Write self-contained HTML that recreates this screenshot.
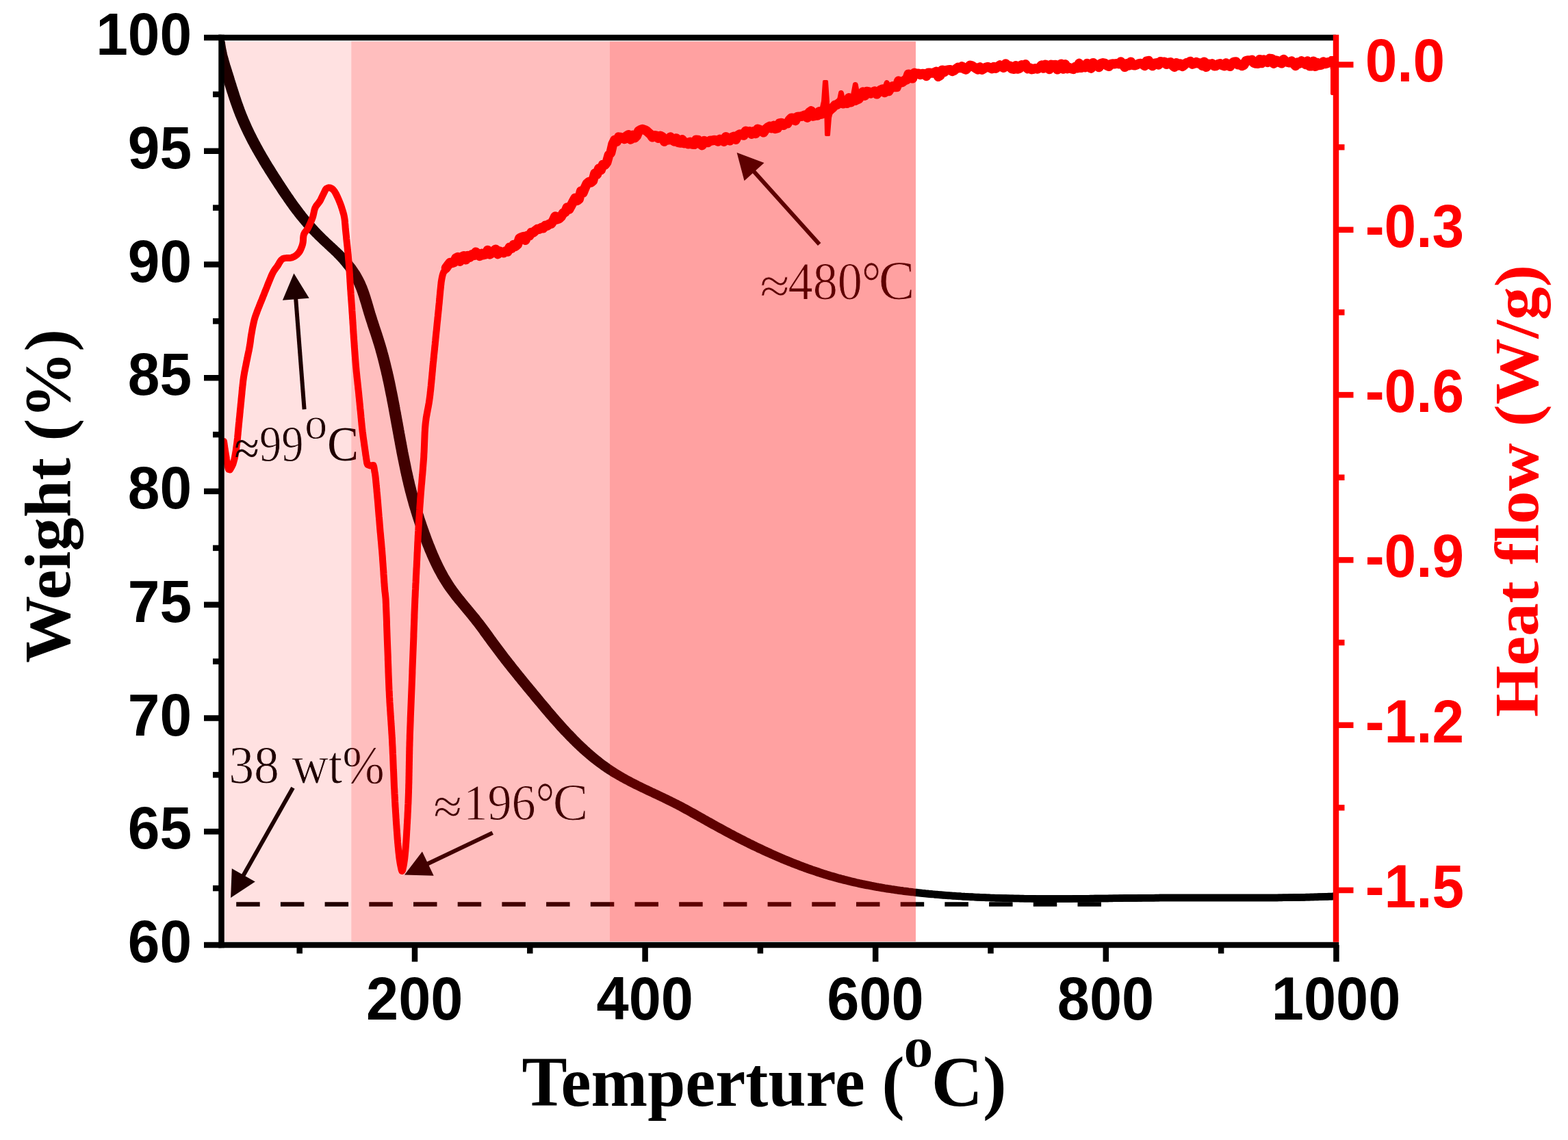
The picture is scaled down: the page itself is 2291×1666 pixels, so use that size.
<!DOCTYPE html><html><head><meta charset="utf-8"><title>TGA-DSC</title><style>html,body{margin:0;padding:0;background:#fff;overflow:hidden}svg{display:block}</style></head><body><svg xmlns="http://www.w3.org/2000/svg" width="2291" height="1666" viewBox="0 0 2291 1666">
<rect width="2291" height="1666" fill="#fff"/>
<defs><clipPath id="pc"><rect x="323.5" y="55.0" width="1628.5" height="1326.0"/></clipPath></defs>
<g clip-path="url(#pc)">
<path d="M320.4 62.2L320.7 64.7L321.1 67.1L321.5 69.6L321.9 72.1L322.4 74.5L323.0 77.0L323.5 79.4L324.1 81.8L324.8 84.3L325.4 86.7L326.1 89.1L326.8 91.5L327.5 93.9L328.2 96.3L329.0 98.7L329.7 101.1L330.5 103.5L331.2 105.8L332.0 108.2L332.7 110.6L333.5 113.0L334.2 115.4L334.9 117.8L335.7 120.2L336.4 122.6L337.2 125.0L337.9 127.3L338.7 129.7L339.4 132.1L340.2 134.5L341.0 136.9L341.7 139.3L342.5 141.6L343.3 144.0L344.1 146.4L344.9 148.8L345.7 151.1L346.6 153.5L347.4 155.8L348.3 158.2L349.1 160.5L350.0 162.9L350.9 165.2L351.8 167.6L352.8 169.9L353.7 172.2L354.7 174.5L355.7 176.8L356.7 179.1L357.7 181.4L358.7 183.7L359.7 185.9L360.8 188.2L361.9 190.5L362.9 192.7L364.0 195.0L365.2 197.2L366.3 199.5L367.4 201.7L368.6 203.9L369.7 206.2L370.9 208.4L372.1 210.6L373.2 212.8L374.4 215.0L375.7 217.2L376.9 219.4L378.1 221.5L379.3 223.7L380.6 225.9L381.8 228.0L383.1 230.2L384.4 232.4L385.7 234.5L386.9 236.7L388.2 238.8L389.5 240.9L390.8 243.1L392.2 245.2L393.5 247.3L394.8 249.5L396.1 251.6L397.5 253.7L398.8 255.8L400.2 257.9L401.5 260.0L402.9 262.1L404.2 264.2L405.6 266.3L407.0 268.4L408.3 270.5L409.7 272.6L411.1 274.7L412.5 276.8L413.8 278.9L415.2 281.0L416.6 283.0L418.0 285.1L419.4 287.2L420.9 289.2L422.3 291.3L423.7 293.4L425.2 295.4L426.6 297.4L428.1 299.5L429.5 301.5L431.0 303.5L432.5 305.5L434.0 307.5L435.5 309.5L437.1 311.5L438.6 313.5L440.1 315.4L441.7 317.4L443.3 319.3L444.9 321.3L446.5 323.2L448.1 325.1L449.8 327.0L451.4 328.9L453.1 330.7L454.8 332.6L456.5 334.4L458.2 336.3L459.9 338.1L461.6 339.9L463.4 341.7L465.1 343.4L466.9 345.2L468.7 347.0L470.5 348.7L472.3 350.4L474.1 352.2L475.9 353.9L477.8 355.6L479.6 357.3L481.4 359.0L483.3 360.7L485.1 362.4L486.9 364.1L488.8 365.8L490.6 367.6L492.4 369.3L494.2 371.0L495.9 372.8L497.7 374.6L499.4 376.4L501.1 378.2L502.8 380.1L504.5 382.0L506.1 383.9L507.7 385.8L509.2 387.8L510.8 389.7L512.3 391.7L513.7 393.8L515.1 395.8L516.5 397.9L517.9 400.0L519.2 402.2L520.4 404.3L521.6 406.5L522.8 408.7L523.9 411.0L525.0 413.2L526.0 415.5L527.0 417.8L528.0 420.1L528.9 422.5L529.8 424.8L530.6 427.2L531.4 429.5L532.2 431.9L533.0 434.3L533.7 436.7L534.4 439.1L535.2 441.5L535.9 443.9L536.6 446.3L537.3 448.7L538.0 451.1L538.7 453.5L539.4 455.9L540.1 458.3L540.9 460.7L541.6 463.1L542.4 465.5L543.1 467.8L543.9 470.2L544.7 472.6L545.4 475.0L546.2 477.4L547.0 479.7L547.8 482.1L548.6 484.5L549.4 486.9L550.2 489.2L550.9 491.6L551.7 494.0L552.4 496.4L553.2 498.8L553.9 501.2L554.7 503.6L555.4 506.0L556.1 508.4L556.8 510.8L557.4 513.2L558.1 515.6L558.8 518.0L559.4 520.4L560.1 522.9L560.7 525.3L561.3 527.7L561.9 530.1L562.5 532.6L563.1 535.0L563.7 537.4L564.3 539.9L564.9 542.3L565.4 544.7L566.0 547.2L566.6 549.6L567.1 552.1L567.6 554.5L568.2 557.0L568.7 559.4L569.2 561.8L569.7 564.3L570.2 566.7L570.7 569.2L571.2 571.7L571.7 574.1L572.2 576.6L572.7 579.0L573.2 581.5L573.6 583.9L574.1 586.4L574.6 588.9L575.1 591.3L575.5 593.8L576.0 596.2L576.4 598.7L576.9 601.2L577.3 603.6L577.8 606.1L578.2 608.5L578.7 611.0L579.1 613.5L579.6 615.9L580.0 618.4L580.5 620.9L580.9 623.3L581.4 625.8L581.8 628.2L582.3 630.7L582.7 633.2L583.2 635.6L583.6 638.1L584.1 640.6L584.5 643.0L585.0 645.5L585.4 647.9L585.9 650.4L586.3 652.9L586.8 655.3L587.3 657.8L587.7 660.2L588.2 662.7L588.7 665.2L589.2 667.6L589.7 670.1L590.2 672.5L590.7 675.0L591.2 677.4L591.7 679.9L592.2 682.3L592.7 684.8L593.2 687.2L593.7 689.7L594.3 692.1L594.8 694.6L595.4 697.0L595.9 699.4L596.5 701.9L597.1 704.3L597.6 706.8L598.2 709.2L598.8 711.6L599.4 714.1L600.0 716.5L600.6 718.9L601.3 721.3L601.9 723.8L602.6 726.2L603.2 728.6L603.9 731.0L604.6 733.4L605.2 735.8L605.9 738.2L606.6 740.6L607.4 743.0L608.1 745.4L608.8 747.8L609.6 750.2L610.3 752.6L611.1 755.0L611.8 757.4L612.6 759.7L613.4 762.1L614.2 764.5L615.0 766.9L615.8 769.2L616.6 771.6L617.5 774.0L618.3 776.3L619.1 778.7L620.0 781.0L620.9 783.4L621.7 785.7L622.6 788.1L623.5 790.4L624.4 792.7L625.3 795.1L626.2 797.4L627.2 799.7L628.1 802.0L629.0 804.4L630.0 806.7L631.0 809.0L632.0 811.3L633.0 813.6L634.0 815.9L635.0 818.1L636.1 820.4L637.1 822.7L638.2 824.9L639.3 827.2L640.4 829.4L641.6 831.7L642.7 833.9L643.9 836.1L645.1 838.3L646.3 840.5L647.5 842.7L648.8 844.8L650.1 847.0L651.4 849.1L652.7 851.2L654.1 853.3L655.4 855.4L656.8 857.5L658.3 859.6L659.7 861.6L661.2 863.6L662.7 865.6L664.2 867.6L665.7 869.6L667.2 871.6L668.8 873.6L670.4 875.5L671.9 877.5L673.5 879.4L675.1 881.3L676.7 883.3L678.3 885.2L679.9 887.1L681.5 889.0L683.1 891.0L684.7 892.9L686.3 894.8L687.9 896.7L689.5 898.7L691.1 900.6L692.7 902.5L694.2 904.5L695.8 906.5L697.3 908.4L698.9 910.4L700.4 912.4L701.9 914.4L703.4 916.4L704.9 918.4L706.4 920.4L707.9 922.4L709.3 924.5L710.8 926.5L712.3 928.5L713.7 930.5L715.2 932.6L716.7 934.6L718.1 936.6L719.6 938.6L721.1 940.7L722.6 942.7L724.1 944.7L725.6 946.7L727.1 948.7L728.6 950.7L730.1 952.7L731.6 954.7L733.1 956.7L734.6 958.7L736.2 960.7L737.7 962.6L739.2 964.6L740.8 966.6L742.3 968.6L743.9 970.5L745.4 972.5L747.0 974.5L748.5 976.4L750.1 978.4L751.6 980.3L753.2 982.3L754.8 984.2L756.4 986.2L757.9 988.1L759.5 990.1L761.1 992.0L762.7 994.0L764.2 995.9L765.8 997.8L767.4 999.8L769.0 1001.7L770.6 1003.6L772.2 1005.6L773.8 1007.5L775.4 1009.4L777.0 1011.4L778.6 1013.3L780.2 1015.2L781.8 1017.1L783.4 1019.1L784.9 1021.0L786.5 1022.9L788.1 1024.8L789.8 1026.8L791.4 1028.7L793.0 1030.6L794.6 1032.5L796.2 1034.4L797.8 1036.4L799.4 1038.3L801.0 1040.2L802.7 1042.1L804.3 1044.0L805.9 1045.9L807.6 1047.8L809.2 1049.7L810.8 1051.6L812.5 1053.4L814.2 1055.3L815.8 1057.2L817.5 1059.0L819.2 1060.9L820.8 1062.8L822.5 1064.6L824.2 1066.4L825.9 1068.3L827.6 1070.1L829.4 1071.9L831.1 1073.7L832.8 1075.5L834.6 1077.3L836.3 1079.1L838.1 1080.9L839.9 1082.7L841.6 1084.4L843.4 1086.2L845.2 1087.9L847.0 1089.7L848.9 1091.4L850.7 1093.1L852.5 1094.8L854.4 1096.5L856.2 1098.1L858.1 1099.8L860.0 1101.4L861.9 1103.1L863.8 1104.7L865.7 1106.3L867.7 1107.9L869.6 1109.5L871.6 1111.0L873.5 1112.6L875.5 1114.1L877.5 1115.6L879.5 1117.1L881.6 1118.6L883.6 1120.0L885.6 1121.5L887.7 1122.9L889.8 1124.3L891.9 1125.7L894.0 1127.0L896.1 1128.4L898.2 1129.7L900.3 1131.0L902.5 1132.3L904.6 1133.5L906.8 1134.8L909.0 1136.0L911.2 1137.3L913.4 1138.5L915.6 1139.7L917.8 1140.8L920.0 1142.0L922.2 1143.2L924.4 1144.3L926.7 1145.4L928.9 1146.6L931.1 1147.7L933.4 1148.8L935.6 1149.9L937.9 1151.0L940.1 1152.1L942.4 1153.1L944.7 1154.2L946.9 1155.3L949.2 1156.4L951.4 1157.4L953.7 1158.5L956.0 1159.6L958.2 1160.6L960.5 1161.7L962.8 1162.8L965.0 1163.9L967.3 1164.9L969.5 1166.0L971.8 1167.1L974.1 1168.2L976.3 1169.3L978.6 1170.4L980.8 1171.5L983.0 1172.6L985.3 1173.7L987.5 1174.9L989.7 1176.0L992.0 1177.2L994.2 1178.3L996.4 1179.5L998.6 1180.7L1000.8 1181.9L1003.0 1183.1L1005.2 1184.3L1007.4 1185.5L1009.6 1186.7L1011.8 1187.9L1013.9 1189.1L1016.1 1190.4L1018.3 1191.6L1020.5 1192.8L1022.7 1194.0L1024.8 1195.3L1027.0 1196.5L1029.2 1197.7L1031.4 1199.0L1033.6 1200.2L1035.7 1201.4L1037.9 1202.6L1040.1 1203.9L1042.3 1205.1L1044.5 1206.3L1046.7 1207.5L1048.9 1208.7L1051.1 1209.9L1053.3 1211.1L1055.5 1212.3L1057.7 1213.5L1059.9 1214.7L1062.1 1215.9L1064.3 1217.1L1066.5 1218.2L1068.7 1219.4L1070.9 1220.6L1073.1 1221.7L1075.4 1222.9L1077.6 1224.0L1079.8 1225.2L1082.0 1226.3L1084.3 1227.5L1086.5 1228.6L1088.7 1229.7L1091.0 1230.8L1093.2 1232.0L1095.5 1233.1L1097.7 1234.2L1099.9 1235.3L1102.2 1236.4L1104.5 1237.5L1106.7 1238.5L1109.0 1239.6L1111.2 1240.7L1113.5 1241.8L1115.8 1242.8L1118.0 1243.9L1120.3 1244.9L1122.6 1245.9L1124.9 1247.0L1127.2 1248.0L1129.4 1249.0L1131.7 1250.0L1134.0 1251.0L1136.3 1252.0L1138.6 1253.0L1140.9 1254.0L1143.2 1255.0L1145.5 1256.0L1147.8 1256.9L1150.2 1257.9L1152.5 1258.8L1154.8 1259.8L1157.1 1260.7L1159.5 1261.6L1161.8 1262.5L1164.1 1263.4L1166.4 1264.3L1168.8 1265.2L1171.1 1266.1L1173.5 1267.0L1175.8 1267.8L1178.2 1268.7L1180.5 1269.5L1182.9 1270.4L1185.3 1271.2L1187.6 1272.0L1190.0 1272.8L1192.4 1273.6L1194.7 1274.4L1197.1 1275.2L1199.5 1276.0L1201.9 1276.7L1204.3 1277.5L1206.7 1278.2L1209.1 1279.0L1211.5 1279.7L1213.9 1280.4L1216.3 1281.1L1218.7 1281.8L1221.1 1282.5L1223.5 1283.1L1225.9 1283.8L1228.3 1284.4L1230.7 1285.1L1233.2 1285.7L1235.6 1286.3L1238.0 1286.9L1240.4 1287.5L1242.9 1288.1L1245.3 1288.7L1247.8 1289.3L1250.2 1289.8L1252.6 1290.4L1255.1 1290.9L1257.5 1291.5L1260.0 1292.0L1262.4 1292.5L1264.9 1293.0L1267.3 1293.5L1269.8 1294.0L1272.2 1294.4L1274.7 1294.9L1277.2 1295.4L1279.6 1295.8L1282.1 1296.3L1284.6 1296.7L1287.0 1297.1L1289.5 1297.6L1292.0 1298.0L1294.4 1298.4L1296.9 1298.8L1299.4 1299.2L1301.8 1299.5L1304.3 1299.9L1306.8 1300.3L1309.3 1300.6L1311.7 1301.0L1314.2 1301.3L1316.7 1301.7L1319.2 1302.0L1321.7 1302.3L1324.2 1302.7L1326.6 1303.0L1329.1 1303.3L1331.6 1303.6L1334.1 1303.9L1336.6 1304.1L1339.1 1304.4L1341.6 1304.7L1344.0 1305.0L1346.5 1305.2L1349.0 1305.5L1351.5 1305.7L1354.0 1306.0L1356.5 1306.2L1359.0 1306.5L1361.5 1306.7L1364.0 1306.9L1366.5 1307.1L1369.0 1307.4L1371.5 1307.6L1374.0 1307.8L1376.4 1308.0L1378.9 1308.2L1381.4 1308.4L1383.9 1308.6L1386.4 1308.7L1388.9 1308.9L1391.4 1309.1L1393.9 1309.3L1396.4 1309.4L1398.9 1309.6L1401.4 1309.8L1403.9 1309.9L1406.4 1310.1L1408.9 1310.2L1411.4 1310.4L1413.9 1310.5L1416.4 1310.6L1418.9 1310.8L1421.4 1310.9L1423.9 1311.0L1426.4 1311.1L1428.9 1311.3L1431.4 1311.4L1433.9 1311.5L1436.4 1311.6L1438.9 1311.7L1441.4 1311.8L1443.9 1311.9L1446.4 1312.0L1448.9 1312.1L1451.4 1312.2L1453.9 1312.2L1456.4 1312.3L1458.9 1312.4L1461.4 1312.5L1463.9 1312.5L1466.4 1312.6L1468.9 1312.7L1471.4 1312.7L1473.9 1312.8L1476.4 1312.8L1478.9 1312.9L1481.4 1312.9L1484.0 1313.0L1486.5 1313.0L1489.0 1313.1L1491.5 1313.1L1494.0 1313.2L1496.5 1313.2L1499.0 1313.2L1501.5 1313.3L1504.0 1313.3L1506.5 1313.3L1509.0 1313.3L1511.5 1313.4L1514.0 1313.4L1516.5 1313.4L1519.0 1313.4L1521.5 1313.4L1524.0 1313.4L1526.5 1313.4L1529.0 1313.5L1531.5 1313.5L1534.0 1313.5L1536.5 1313.5L1539.0 1313.5L1541.5 1313.5L1544.0 1313.5L1546.5 1313.5L1549.0 1313.5L1551.5 1313.5L1554.0 1313.4L1556.5 1313.4L1559.0 1313.4L1561.6 1313.4L1564.1 1313.4L1566.6 1313.4L1569.1 1313.4L1571.6 1313.3L1574.1 1313.3L1576.6 1313.3L1579.1 1313.3L1581.6 1313.3L1584.1 1313.3L1586.6 1313.2L1589.1 1313.2L1591.6 1313.2L1594.1 1313.2L1596.6 1313.1L1599.1 1313.1L1601.6 1313.1L1604.1 1313.1L1606.6 1313.0L1609.1 1313.0L1611.6 1313.0L1614.1 1312.9L1616.6 1312.9L1619.1 1312.9L1621.6 1312.9L1624.1 1312.8L1626.6 1312.8L1629.1 1312.8L1631.6 1312.7L1634.1 1312.7L1636.6 1312.7L1639.1 1312.6L1641.6 1312.6L1644.2 1312.6L1646.7 1312.6L1649.2 1312.5L1651.7 1312.5L1654.2 1312.5L1656.7 1312.4L1659.2 1312.4L1661.7 1312.4L1664.2 1312.4L1666.7 1312.3L1669.2 1312.3L1671.7 1312.3L1674.2 1312.3L1676.7 1312.2L1679.2 1312.2L1681.7 1312.2L1684.2 1312.2L1686.7 1312.2L1689.2 1312.2L1691.7 1312.1L1694.2 1312.1L1696.7 1312.1L1699.2 1312.1L1701.7 1312.1L1704.2 1312.1L1706.7 1312.1L1709.2 1312.1L1711.7 1312.0L1714.2 1312.0L1716.7 1312.0L1719.2 1312.0L1721.8 1312.0L1724.3 1312.0L1726.8 1312.0L1729.3 1312.0L1731.8 1312.0L1734.3 1312.0L1736.8 1312.0L1739.3 1312.0L1741.8 1312.0L1744.3 1312.0L1746.8 1312.0L1749.3 1312.0L1751.8 1312.0L1754.3 1312.0L1756.8 1312.0L1759.3 1312.1L1761.8 1312.1L1764.3 1312.1L1766.8 1312.1L1769.3 1312.1L1771.8 1312.1L1774.3 1312.1L1776.8 1312.1L1779.3 1312.1L1781.8 1312.1L1784.3 1312.1L1786.8 1312.1L1789.3 1312.1L1791.8 1312.1L1794.3 1312.1L1796.8 1312.1L1799.4 1312.1L1801.9 1312.1L1804.4 1312.1L1806.9 1312.1L1809.4 1312.1L1811.9 1312.1L1814.4 1312.1L1816.9 1312.1L1819.4 1312.1L1821.9 1312.1L1824.4 1312.1L1826.9 1312.1L1829.4 1312.1L1831.9 1312.1L1834.4 1312.1L1836.9 1312.1L1839.4 1312.1L1841.9 1312.1L1844.4 1312.1L1846.9 1312.1L1849.4 1312.0L1851.9 1312.0L1854.4 1312.0L1856.9 1312.0L1859.4 1312.0L1861.9 1311.9L1864.4 1311.9L1866.9 1311.9L1869.4 1311.9L1871.9 1311.8L1874.4 1311.8L1876.9 1311.8L1879.5 1311.7L1882.0 1311.7L1884.5 1311.7L1887.0 1311.6L1889.5 1311.6L1892.0 1311.6L1894.5 1311.5L1897.0 1311.5L1899.5 1311.4L1902.0 1311.4L1904.5 1311.3L1907.0 1311.2L1909.5 1311.2L1912.0 1311.1L1914.5 1311.1L1917.0 1311.0L1919.5 1310.9L1922.0 1310.9L1924.5 1310.8L1927.0 1310.7L1929.5 1310.6L1932.0 1310.5L1934.5 1310.5L1937.0 1310.4L1939.5 1310.3L1942.0 1310.2L1944.5 1310.1L1947.0 1310.0L1949.5 1309.9L1952.0 1309.8" transform="translate(-3.25 0)" fill="none" stroke="#000" stroke-width="10.5" stroke-linejoin="round" stroke-linecap="round"/>
<path d="M320.4 62.2L320.7 64.7L321.1 67.1L321.5 69.6L321.9 72.1L322.4 74.5L323.0 77.0L323.5 79.4L324.1 81.8L324.8 84.3L325.4 86.7L326.1 89.1L326.8 91.5L327.5 93.9L328.2 96.3L329.0 98.7L329.7 101.1L330.5 103.5L331.2 105.8L332.0 108.2L332.7 110.6L333.5 113.0L334.2 115.4L334.9 117.8L335.7 120.2L336.4 122.6L337.2 125.0L337.9 127.3L338.7 129.7L339.4 132.1L340.2 134.5L341.0 136.9L341.7 139.3L342.5 141.6L343.3 144.0L344.1 146.4L344.9 148.8L345.7 151.1L346.6 153.5L347.4 155.8L348.3 158.2L349.1 160.5L350.0 162.9L350.9 165.2L351.8 167.6L352.8 169.9L353.7 172.2L354.7 174.5L355.7 176.8L356.7 179.1L357.7 181.4L358.7 183.7L359.7 185.9L360.8 188.2L361.9 190.5L362.9 192.7L364.0 195.0L365.2 197.2L366.3 199.5L367.4 201.7L368.6 203.9L369.7 206.2L370.9 208.4L372.1 210.6L373.2 212.8L374.4 215.0L375.7 217.2L376.9 219.4L378.1 221.5L379.3 223.7L380.6 225.9L381.8 228.0L383.1 230.2L384.4 232.4L385.7 234.5L386.9 236.7L388.2 238.8L389.5 240.9L390.8 243.1L392.2 245.2L393.5 247.3L394.8 249.5L396.1 251.6L397.5 253.7L398.8 255.8L400.2 257.9L401.5 260.0L402.9 262.1L404.2 264.2L405.6 266.3L407.0 268.4L408.3 270.5L409.7 272.6L411.1 274.7L412.5 276.8L413.8 278.9L415.2 281.0L416.6 283.0L418.0 285.1L419.4 287.2L420.9 289.2L422.3 291.3L423.7 293.4L425.2 295.4L426.6 297.4L428.1 299.5L429.5 301.5L431.0 303.5L432.5 305.5L434.0 307.5L435.5 309.5L437.1 311.5L438.6 313.5L440.1 315.4L441.7 317.4L443.3 319.3L444.9 321.3L446.5 323.2L448.1 325.1L449.8 327.0L451.4 328.9L453.1 330.7L454.8 332.6L456.5 334.4L458.2 336.3L459.9 338.1L461.6 339.9L463.4 341.7L465.1 343.4L466.9 345.2L468.7 347.0L470.5 348.7L472.3 350.4L474.1 352.2L475.9 353.9L477.8 355.6L479.6 357.3L481.4 359.0L483.3 360.7L485.1 362.4L486.9 364.1L488.8 365.8L490.6 367.6L492.4 369.3L494.2 371.0L495.9 372.8L497.7 374.6L499.4 376.4L501.1 378.2L502.8 380.1L504.5 382.0L506.1 383.9L507.7 385.8L509.2 387.8L510.8 389.7L512.3 391.7L513.7 393.8L515.1 395.8L516.5 397.9L517.9 400.0L519.2 402.2L520.4 404.3L521.6 406.5L522.8 408.7L523.9 411.0L525.0 413.2L526.0 415.5L527.0 417.8L528.0 420.1L528.9 422.5L529.8 424.8L530.6 427.2L531.4 429.5L532.2 431.9L533.0 434.3L533.7 436.7L534.4 439.1L535.2 441.5L535.9 443.9L536.6 446.3L537.3 448.7L538.0 451.1L538.7 453.5L539.4 455.9L540.1 458.3L540.9 460.7L541.6 463.1L542.4 465.5L543.1 467.8L543.9 470.2L544.7 472.6L545.4 475.0L546.2 477.4L547.0 479.7L547.8 482.1L548.6 484.5L549.4 486.9L550.2 489.2L550.9 491.6L551.7 494.0L552.4 496.4L553.2 498.8L553.9 501.2L554.7 503.6L555.4 506.0L556.1 508.4L556.8 510.8L557.4 513.2L558.1 515.6L558.8 518.0L559.4 520.4L560.1 522.9L560.7 525.3L561.3 527.7L561.9 530.1L562.5 532.6L563.1 535.0L563.7 537.4L564.3 539.9L564.9 542.3L565.4 544.7L566.0 547.2L566.6 549.6L567.1 552.1L567.6 554.5L568.2 557.0L568.7 559.4L569.2 561.8L569.7 564.3L570.2 566.7L570.7 569.2L571.2 571.7L571.7 574.1L572.2 576.6L572.7 579.0L573.2 581.5L573.6 583.9L574.1 586.4L574.6 588.9L575.1 591.3L575.5 593.8L576.0 596.2L576.4 598.7L576.9 601.2L577.3 603.6L577.8 606.1L578.2 608.5L578.7 611.0L579.1 613.5L579.6 615.9L580.0 618.4L580.5 620.9L580.9 623.3L581.4 625.8L581.8 628.2L582.3 630.7L582.7 633.2L583.2 635.6L583.6 638.1L584.1 640.6L584.5 643.0L585.0 645.5L585.4 647.9L585.9 650.4L586.3 652.9L586.8 655.3L587.3 657.8L587.7 660.2L588.2 662.7L588.7 665.2L589.2 667.6L589.7 670.1L590.2 672.5L590.7 675.0L591.2 677.4L591.7 679.9L592.2 682.3L592.7 684.8L593.2 687.2L593.7 689.7L594.3 692.1L594.8 694.6L595.4 697.0L595.9 699.4L596.5 701.9L597.1 704.3L597.6 706.8L598.2 709.2L598.8 711.6L599.4 714.1L600.0 716.5L600.6 718.9L601.3 721.3L601.9 723.8L602.6 726.2L603.2 728.6L603.9 731.0L604.6 733.4L605.2 735.8L605.9 738.2L606.6 740.6L607.4 743.0L608.1 745.4L608.8 747.8L609.6 750.2L610.3 752.6L611.1 755.0L611.8 757.4L612.6 759.7L613.4 762.1L614.2 764.5L615.0 766.9L615.8 769.2L616.6 771.6L617.5 774.0L618.3 776.3L619.1 778.7L620.0 781.0L620.9 783.4L621.7 785.7L622.6 788.1L623.5 790.4L624.4 792.7L625.3 795.1L626.2 797.4L627.2 799.7L628.1 802.0L629.0 804.4L630.0 806.7L631.0 809.0L632.0 811.3L633.0 813.6L634.0 815.9L635.0 818.1L636.1 820.4L637.1 822.7L638.2 824.9L639.3 827.2L640.4 829.4L641.6 831.7L642.7 833.9L643.9 836.1L645.1 838.3L646.3 840.5L647.5 842.7L648.8 844.8L650.1 847.0L651.4 849.1L652.7 851.2L654.1 853.3L655.4 855.4L656.8 857.5L658.3 859.6L659.7 861.6L661.2 863.6L662.7 865.6L664.2 867.6L665.7 869.6L667.2 871.6L668.8 873.6L670.4 875.5L671.9 877.5L673.5 879.4L675.1 881.3L676.7 883.3L678.3 885.2L679.9 887.1L681.5 889.0L683.1 891.0L684.7 892.9L686.3 894.8L687.9 896.7L689.5 898.7L691.1 900.6L692.7 902.5L694.2 904.5L695.8 906.5L697.3 908.4L698.9 910.4L700.4 912.4L701.9 914.4L703.4 916.4L704.9 918.4L706.4 920.4L707.9 922.4L709.3 924.5L710.8 926.5L712.3 928.5L713.7 930.5L715.2 932.6L716.7 934.6L718.1 936.6L719.6 938.6L721.1 940.7L722.6 942.7L724.1 944.7L725.6 946.7L727.1 948.7L728.6 950.7L730.1 952.7L731.6 954.7L733.1 956.7L734.6 958.7L736.2 960.7L737.7 962.6L739.2 964.6L740.8 966.6L742.3 968.6L743.9 970.5L745.4 972.5L747.0 974.5L748.5 976.4L750.1 978.4L751.6 980.3L753.2 982.3L754.8 984.2L756.4 986.2L757.9 988.1L759.5 990.1L761.1 992.0L762.7 994.0L764.2 995.9L765.8 997.8L767.4 999.8L769.0 1001.7L770.6 1003.6L772.2 1005.6L773.8 1007.5L775.4 1009.4L777.0 1011.4L778.6 1013.3L780.2 1015.2L781.8 1017.1L783.4 1019.1L784.9 1021.0L786.5 1022.9L788.1 1024.8L789.8 1026.8L791.4 1028.7L793.0 1030.6L794.6 1032.5L796.2 1034.4L797.8 1036.4L799.4 1038.3L801.0 1040.2L802.7 1042.1L804.3 1044.0L805.9 1045.9L807.6 1047.8L809.2 1049.7L810.8 1051.6L812.5 1053.4L814.2 1055.3L815.8 1057.2L817.5 1059.0L819.2 1060.9L820.8 1062.8L822.5 1064.6L824.2 1066.4L825.9 1068.3L827.6 1070.1L829.4 1071.9L831.1 1073.7L832.8 1075.5L834.6 1077.3L836.3 1079.1L838.1 1080.9L839.9 1082.7L841.6 1084.4L843.4 1086.2L845.2 1087.9L847.0 1089.7L848.9 1091.4L850.7 1093.1L852.5 1094.8L854.4 1096.5L856.2 1098.1L858.1 1099.8L860.0 1101.4L861.9 1103.1L863.8 1104.7L865.7 1106.3L867.7 1107.9L869.6 1109.5L871.6 1111.0L873.5 1112.6L875.5 1114.1L877.5 1115.6L879.5 1117.1L881.6 1118.6L883.6 1120.0L885.6 1121.5L887.7 1122.9L889.8 1124.3L891.9 1125.7L894.0 1127.0L896.1 1128.4L898.2 1129.7L900.3 1131.0L902.5 1132.3L904.6 1133.5L906.8 1134.8L909.0 1136.0L911.2 1137.3L913.4 1138.5L915.6 1139.7L917.8 1140.8L920.0 1142.0L922.2 1143.2L924.4 1144.3L926.7 1145.4L928.9 1146.6L931.1 1147.7L933.4 1148.8L935.6 1149.9L937.9 1151.0L940.1 1152.1L942.4 1153.1L944.7 1154.2L946.9 1155.3L949.2 1156.4L951.4 1157.4L953.7 1158.5L956.0 1159.6L958.2 1160.6L960.5 1161.7L962.8 1162.8L965.0 1163.9L967.3 1164.9L969.5 1166.0L971.8 1167.1L974.1 1168.2L976.3 1169.3L978.6 1170.4L980.8 1171.5L983.0 1172.6L985.3 1173.7L987.5 1174.9L989.7 1176.0L992.0 1177.2L994.2 1178.3L996.4 1179.5L998.6 1180.7L1000.8 1181.9L1003.0 1183.1L1005.2 1184.3L1007.4 1185.5L1009.6 1186.7L1011.8 1187.9L1013.9 1189.1L1016.1 1190.4L1018.3 1191.6L1020.5 1192.8L1022.7 1194.0L1024.8 1195.3L1027.0 1196.5L1029.2 1197.7L1031.4 1199.0L1033.6 1200.2L1035.7 1201.4L1037.9 1202.6L1040.1 1203.9L1042.3 1205.1L1044.5 1206.3L1046.7 1207.5L1048.9 1208.7L1051.1 1209.9L1053.3 1211.1L1055.5 1212.3L1057.7 1213.5L1059.9 1214.7L1062.1 1215.9L1064.3 1217.1L1066.5 1218.2L1068.7 1219.4L1070.9 1220.6L1073.1 1221.7L1075.4 1222.9L1077.6 1224.0L1079.8 1225.2L1082.0 1226.3L1084.3 1227.5L1086.5 1228.6L1088.7 1229.7L1091.0 1230.8L1093.2 1232.0L1095.5 1233.1L1097.7 1234.2L1099.9 1235.3L1102.2 1236.4L1104.5 1237.5L1106.7 1238.5L1109.0 1239.6L1111.2 1240.7L1113.5 1241.8L1115.8 1242.8L1118.0 1243.9L1120.3 1244.9L1122.6 1245.9L1124.9 1247.0L1127.2 1248.0L1129.4 1249.0L1131.7 1250.0L1134.0 1251.0L1136.3 1252.0L1138.6 1253.0L1140.9 1254.0L1143.2 1255.0L1145.5 1256.0L1147.8 1256.9L1150.2 1257.9L1152.5 1258.8L1154.8 1259.8L1157.1 1260.7L1159.5 1261.6L1161.8 1262.5L1164.1 1263.4L1166.4 1264.3L1168.8 1265.2L1171.1 1266.1L1173.5 1267.0L1175.8 1267.8L1178.2 1268.7L1180.5 1269.5L1182.9 1270.4L1185.3 1271.2L1187.6 1272.0L1190.0 1272.8L1192.4 1273.6L1194.7 1274.4L1197.1 1275.2L1199.5 1276.0L1201.9 1276.7L1204.3 1277.5L1206.7 1278.2L1209.1 1279.0L1211.5 1279.7L1213.9 1280.4L1216.3 1281.1L1218.7 1281.8L1221.1 1282.5L1223.5 1283.1L1225.9 1283.8L1228.3 1284.4L1230.7 1285.1L1233.2 1285.7L1235.6 1286.3L1238.0 1286.9L1240.4 1287.5L1242.9 1288.1L1245.3 1288.7L1247.8 1289.3L1250.2 1289.8L1252.6 1290.4L1255.1 1290.9L1257.5 1291.5L1260.0 1292.0L1262.4 1292.5L1264.9 1293.0L1267.3 1293.5L1269.8 1294.0L1272.2 1294.4L1274.7 1294.9L1277.2 1295.4L1279.6 1295.8L1282.1 1296.3L1284.6 1296.7L1287.0 1297.1L1289.5 1297.6L1292.0 1298.0L1294.4 1298.4L1296.9 1298.8L1299.4 1299.2L1301.8 1299.5L1304.3 1299.9L1306.8 1300.3L1309.3 1300.6L1311.7 1301.0L1314.2 1301.3L1316.7 1301.7L1319.2 1302.0L1321.7 1302.3L1324.2 1302.7L1326.6 1303.0L1329.1 1303.3L1331.6 1303.6L1334.1 1303.9L1336.6 1304.1L1339.1 1304.4L1341.6 1304.7L1344.0 1305.0L1346.5 1305.2L1349.0 1305.5L1351.5 1305.7L1354.0 1306.0L1356.5 1306.2L1359.0 1306.5L1361.5 1306.7L1364.0 1306.9L1366.5 1307.1L1369.0 1307.4L1371.5 1307.6L1374.0 1307.8L1376.4 1308.0L1378.9 1308.2L1381.4 1308.4L1383.9 1308.6L1386.4 1308.7L1388.9 1308.9L1391.4 1309.1L1393.9 1309.3L1396.4 1309.4L1398.9 1309.6L1401.4 1309.8L1403.9 1309.9L1406.4 1310.1L1408.9 1310.2L1411.4 1310.4L1413.9 1310.5L1416.4 1310.6L1418.9 1310.8L1421.4 1310.9L1423.9 1311.0L1426.4 1311.1L1428.9 1311.3L1431.4 1311.4L1433.9 1311.5L1436.4 1311.6L1438.9 1311.7L1441.4 1311.8L1443.9 1311.9L1446.4 1312.0L1448.9 1312.1L1451.4 1312.2L1453.9 1312.2L1456.4 1312.3L1458.9 1312.4L1461.4 1312.5L1463.9 1312.5L1466.4 1312.6L1468.9 1312.7L1471.4 1312.7L1473.9 1312.8L1476.4 1312.8L1478.9 1312.9L1481.4 1312.9L1484.0 1313.0L1486.5 1313.0L1489.0 1313.1L1491.5 1313.1L1494.0 1313.2L1496.5 1313.2L1499.0 1313.2L1501.5 1313.3L1504.0 1313.3L1506.5 1313.3L1509.0 1313.3L1511.5 1313.4L1514.0 1313.4L1516.5 1313.4L1519.0 1313.4L1521.5 1313.4L1524.0 1313.4L1526.5 1313.4L1529.0 1313.5L1531.5 1313.5L1534.0 1313.5L1536.5 1313.5L1539.0 1313.5L1541.5 1313.5L1544.0 1313.5L1546.5 1313.5L1549.0 1313.5L1551.5 1313.5L1554.0 1313.4L1556.5 1313.4L1559.0 1313.4L1561.6 1313.4L1564.1 1313.4L1566.6 1313.4L1569.1 1313.4L1571.6 1313.3L1574.1 1313.3L1576.6 1313.3L1579.1 1313.3L1581.6 1313.3L1584.1 1313.3L1586.6 1313.2L1589.1 1313.2L1591.6 1313.2L1594.1 1313.2L1596.6 1313.1L1599.1 1313.1L1601.6 1313.1L1604.1 1313.1L1606.6 1313.0L1609.1 1313.0L1611.6 1313.0L1614.1 1312.9L1616.6 1312.9L1619.1 1312.9L1621.6 1312.9L1624.1 1312.8L1626.6 1312.8L1629.1 1312.8L1631.6 1312.7L1634.1 1312.7L1636.6 1312.7L1639.1 1312.6L1641.6 1312.6L1644.2 1312.6L1646.7 1312.6L1649.2 1312.5L1651.7 1312.5L1654.2 1312.5L1656.7 1312.4L1659.2 1312.4L1661.7 1312.4L1664.2 1312.4L1666.7 1312.3L1669.2 1312.3L1671.7 1312.3L1674.2 1312.3L1676.7 1312.2L1679.2 1312.2L1681.7 1312.2L1684.2 1312.2L1686.7 1312.2L1689.2 1312.2L1691.7 1312.1L1694.2 1312.1L1696.7 1312.1L1699.2 1312.1L1701.7 1312.1L1704.2 1312.1L1706.7 1312.1L1709.2 1312.1L1711.7 1312.0L1714.2 1312.0L1716.7 1312.0L1719.2 1312.0L1721.8 1312.0L1724.3 1312.0L1726.8 1312.0L1729.3 1312.0L1731.8 1312.0L1734.3 1312.0L1736.8 1312.0L1739.3 1312.0L1741.8 1312.0L1744.3 1312.0L1746.8 1312.0L1749.3 1312.0L1751.8 1312.0L1754.3 1312.0L1756.8 1312.0L1759.3 1312.1L1761.8 1312.1L1764.3 1312.1L1766.8 1312.1L1769.3 1312.1L1771.8 1312.1L1774.3 1312.1L1776.8 1312.1L1779.3 1312.1L1781.8 1312.1L1784.3 1312.1L1786.8 1312.1L1789.3 1312.1L1791.8 1312.1L1794.3 1312.1L1796.8 1312.1L1799.4 1312.1L1801.9 1312.1L1804.4 1312.1L1806.9 1312.1L1809.4 1312.1L1811.9 1312.1L1814.4 1312.1L1816.9 1312.1L1819.4 1312.1L1821.9 1312.1L1824.4 1312.1L1826.9 1312.1L1829.4 1312.1L1831.9 1312.1L1834.4 1312.1L1836.9 1312.1L1839.4 1312.1L1841.9 1312.1L1844.4 1312.1L1846.9 1312.1L1849.4 1312.0L1851.9 1312.0L1854.4 1312.0L1856.9 1312.0L1859.4 1312.0L1861.9 1311.9L1864.4 1311.9L1866.9 1311.9L1869.4 1311.9L1871.9 1311.8L1874.4 1311.8L1876.9 1311.8L1879.5 1311.7L1882.0 1311.7L1884.5 1311.7L1887.0 1311.6L1889.5 1311.6L1892.0 1311.6L1894.5 1311.5L1897.0 1311.5L1899.5 1311.4L1902.0 1311.4L1904.5 1311.3L1907.0 1311.2L1909.5 1311.2L1912.0 1311.1L1914.5 1311.1L1917.0 1311.0L1919.5 1310.9L1922.0 1310.9L1924.5 1310.8L1927.0 1310.7L1929.5 1310.6L1932.0 1310.5L1934.5 1310.5L1937.0 1310.4L1939.5 1310.3L1942.0 1310.2L1944.5 1310.1L1947.0 1310.0L1949.5 1309.9L1952.0 1309.8" transform="translate(3.25 0)" fill="none" stroke="#000" stroke-width="10.5" stroke-linejoin="round" stroke-linecap="round"/>
<path d="M327.0 645.0L327.2 646.5L327.5 648.6L327.9 651.0L328.2 653.7L328.7 656.5L329.1 659.5L329.6 662.3L330.0 665.0L330.5 667.7L330.9 670.7L331.4 673.9L331.9 676.9L332.5 679.8L333.0 682.4L333.5 684.5L334.0 686.0L336.0 686.5L338.0 683.0L339.1 681.0L340.2 678.6L341.2 675.5L342.3 671.5L342.8 669.4L343.2 667.1L343.7 664.6L344.1 661.9L344.6 659.1L345.0 656.2L345.4 653.3L345.8 650.3L346.2 647.3L346.5 644.8L346.8 642.3L347.1 639.7L347.3 637.1L347.6 634.4L347.8 631.7L348.1 629.0L348.3 626.3L348.6 623.6L348.8 620.9L349.1 618.2L349.4 615.5L349.6 612.9L349.9 610.2L350.2 607.6L350.4 604.9L350.7 602.3L350.9 599.6L351.2 597.0L351.5 594.3L351.7 591.6L352.0 589.0L352.3 586.3L352.5 583.5L352.8 580.7L353.1 577.8L353.4 575.0L353.6 572.2L353.9 569.4L354.2 566.8L354.4 564.4L354.7 562.1L354.9 560.0L355.3 556.3L355.7 553.5L356.0 551.1L356.4 548.7L356.9 545.8L357.3 543.3L357.9 540.6L358.4 537.8L359.0 535.0L359.6 532.1L360.1 529.2L360.7 526.4L361.3 523.6L361.8 520.9L362.4 518.1L363.0 515.3L363.6 512.5L364.1 509.8L364.6 507.0L365.1 504.2L365.5 501.5L365.9 498.7L366.2 495.9L366.6 493.1L367.0 490.4L367.5 487.6L368.0 484.8L368.5 481.9L369.0 479.0L369.6 476.2L370.2 473.4L370.8 470.7L371.4 468.2L372.1 465.5L372.9 463.0L373.7 460.6L374.6 458.3L375.4 456.0L376.3 453.6L377.2 451.2L378.2 448.8L379.1 446.4L380.1 443.9L381.1 441.5L382.1 439.1L383.1 436.7L384.0 434.2L385.0 431.8L386.0 429.4L386.9 426.9L387.9 424.5L388.9 422.0L389.9 419.6L390.8 417.1L391.8 414.6L392.8 412.3L393.7 410.0L394.8 407.4L395.8 404.9L396.8 402.5L397.9 400.2L399.0 398.0L400.4 395.6L401.9 393.4L403.5 391.3L405.2 389.0L406.6 386.8L407.9 384.4L409.4 382.0L411.0 379.9L413.0 378.3L415.4 377.4L418.2 377.1L421.2 377.1L424.0 377.0L426.6 376.4L429.4 375.2L431.9 373.7L434.2 371.8L436.3 369.6L437.8 367.5L439.1 365.1L440.2 362.5L441.3 359.7L442.1 357.0L442.7 354.1L443.0 351.0L443.1 347.9L443.4 345.0L444.0 342.4L445.2 340.0L446.6 338.1L448.2 336.2L449.8 333.7L450.9 331.5L452.1 329.0L453.3 326.3L454.5 323.6L455.6 320.8L456.6 318.2L457.4 315.7L458.0 313.1L458.6 310.5L459.1 308.1L459.7 305.7L460.5 303.6L462.0 300.9L463.8 298.6L465.6 296.4L467.3 294.0L468.6 291.7L469.8 289.2L471.0 286.7L472.1 284.4L473.1 282.3L474.5 279.5L475.6 277.2L477.0 275.5L479.8 274.3L482.8 274.5L484.7 275.4L486.7 277.1L488.6 279.4L489.8 281.3L491.0 283.5L492.2 286.0L493.4 288.5L494.5 291.0L495.5 293.4L496.5 295.9L497.5 298.4L498.4 300.9L499.3 303.6L500.0 305.9L500.7 308.1L501.4 310.5L502.1 312.9L502.7 315.5L503.2 318.2L503.6 320.7L503.9 323.4L504.1 326.2L504.4 329.0L504.6 331.9L504.8 334.8L505.1 337.6L505.4 340.4L505.7 343.1L506.0 345.9L506.2 348.7L506.5 351.5L506.8 354.2L507.1 357.0L507.4 359.8L507.7 362.5L507.9 365.3L508.2 368.1L508.5 370.9L508.8 373.6L509.0 376.4L509.2 379.1L509.5 381.8L509.7 384.5L509.9 387.1L510.1 389.9L510.3 392.8L510.5 395.8L510.7 398.2L510.8 400.6L511.0 403.0L511.1 405.4L511.3 408.0L511.4 410.7L511.6 413.5L511.8 416.6L512.0 420.0L512.1 422.2L512.3 424.4L512.5 426.8L512.6 429.3L512.8 431.9L513.0 434.5L513.2 437.1L513.4 439.8L513.6 442.6L513.8 445.3L514.0 448.1L514.2 450.8L514.3 453.5L514.5 456.2L514.7 458.8L514.9 461.4L515.0 464.0L515.2 466.6L515.4 469.1L515.5 471.7L515.7 474.3L515.9 476.9L516.0 479.5L516.2 482.1L516.3 484.7L516.5 487.3L516.7 489.8L516.8 492.4L517.0 495.0L517.2 497.6L517.4 500.2L517.6 502.8L517.7 505.4L517.9 508.1L518.1 510.7L518.3 513.4L518.5 516.0L518.7 518.6L518.9 521.3L519.1 523.9L519.3 526.4L519.5 529.0L519.7 531.5L519.9 534.0L520.1 536.4L520.4 539.2L520.6 541.9L520.9 544.6L521.2 547.3L521.4 549.9L521.7 552.5L522.0 555.1L522.3 557.6L522.5 560.2L522.8 562.7L523.1 565.1L523.3 567.6L523.6 570.0L523.9 572.8L524.2 575.6L524.4 578.3L524.7 580.9L525.0 583.5L525.2 586.1L525.5 588.7L525.7 591.3L526.0 593.9L526.2 596.5L526.5 599.1L526.8 601.7L527.0 604.4L527.3 607.0L527.5 609.7L527.8 612.3L528.0 615.0L528.3 617.6L528.5 620.3L528.8 622.9L529.1 625.6L529.4 628.2L529.7 630.9L530.1 633.7L530.4 636.5L530.8 639.4L531.2 642.2L531.6 645.0L532.0 647.8L532.3 650.4L532.7 652.9L533.0 655.2L533.3 657.3L533.9 661.3L534.3 664.6L534.8 667.4L535.1 669.8L535.5 672.0L536.1 676.3L537.0 679.0L541.0 680.5L545.5 680.0L546.2 681.9L546.7 684.6L547.1 687.5L547.5 690.0L547.9 691.6L548.5 696.1L548.7 697.8L548.9 699.7L549.1 701.9L549.3 704.3L549.6 706.8L549.8 709.5L550.1 712.4L550.4 715.3L550.6 718.2L550.9 721.2L551.2 724.2L551.4 727.1L551.7 730.0L551.9 732.3L552.1 734.7L552.3 737.1L552.5 739.6L552.7 742.0L552.9 744.6L553.1 747.1L553.3 749.6L553.5 752.2L553.7 754.7L554.0 757.3L554.2 759.9L554.4 762.4L554.6 765.0L554.8 767.5L555.0 770.0L555.2 772.5L555.4 774.9L555.6 777.4L555.9 779.8L556.1 782.2L556.3 784.6L556.5 787.0L556.7 789.4L557.0 791.8L557.2 794.3L557.4 796.8L557.6 799.3L557.8 801.9L558.1 804.5L558.3 807.2L558.5 810.0L558.7 812.3L558.9 814.7L559.0 817.2L559.2 819.8L559.4 822.5L559.6 825.2L559.8 828.0L560.0 830.7L560.2 833.5L560.4 836.2L560.5 839.0L560.7 841.7L560.9 844.3L561.1 846.9L561.2 849.4L561.4 851.8L561.6 854.0L561.7 856.2L561.9 858.2L562.0 860.0L562.3 863.6L562.6 866.0L562.8 867.6L563.0 868.9L563.1 870.3L563.3 872.3L563.6 875.4L563.8 880.0L563.9 881.7L564.0 883.5L564.0 885.4L564.1 887.5L564.2 889.6L564.3 891.9L564.4 894.2L564.5 896.6L564.6 899.1L564.7 901.6L564.8 904.2L564.9 906.9L565.0 909.6L565.0 912.3L565.1 915.1L565.2 917.9L565.3 920.7L565.4 923.5L565.5 926.3L565.6 929.1L565.7 931.9L565.8 934.7L565.9 937.4L566.0 940.1L566.1 942.7L566.2 945.4L566.3 947.9L566.4 950.4L566.5 952.9L566.6 955.4L566.7 958.0L566.8 960.5L566.8 963.0L566.9 965.5L567.0 968.0L567.1 970.5L567.2 973.0L567.3 975.6L567.4 978.1L567.4 980.6L567.5 983.1L567.6 985.6L567.7 988.1L567.8 990.7L567.9 993.2L568.0 995.7L568.1 998.2L568.2 1000.7L568.3 1003.2L568.4 1005.7L568.5 1008.3L568.7 1010.8L568.8 1013.3L568.9 1015.8L569.0 1018.3L569.2 1020.8L569.3 1023.3L569.4 1025.8L569.6 1028.3L569.7 1030.7L569.9 1033.2L570.1 1035.7L570.2 1038.1L570.4 1040.6L570.5 1043.0L570.7 1045.5L570.9 1048.0L571.0 1050.5L571.2 1052.9L571.4 1055.4L571.5 1057.9L571.7 1060.4L571.9 1063.0L572.0 1065.5L572.2 1068.0L572.3 1070.6L572.5 1073.2L572.7 1075.8L572.8 1078.4L573.0 1081.0L573.1 1083.7L573.2 1086.1L573.3 1088.6L573.5 1091.1L573.6 1093.6L573.7 1096.1L573.8 1098.7L573.9 1101.3L574.1 1103.9L574.2 1106.5L574.3 1109.2L574.4 1111.8L574.5 1114.5L574.6 1117.2L574.7 1119.8L574.8 1122.5L574.9 1125.1L575.1 1127.8L575.2 1130.4L575.3 1133.0L575.4 1135.6L575.5 1138.2L575.6 1140.7L575.7 1143.3L575.8 1145.8L575.9 1148.2L576.0 1150.7L576.2 1153.1L576.3 1155.4L576.4 1157.7L576.5 1160.0L576.7 1162.9L576.8 1165.8L577.0 1168.7L577.1 1171.5L577.3 1174.3L577.4 1177.1L577.6 1179.8L577.8 1182.6L577.9 1185.2L578.1 1187.9L578.3 1190.5L578.4 1193.0L578.6 1195.6L578.7 1198.0L578.9 1200.5L579.0 1202.9L579.2 1205.2L579.4 1207.5L579.5 1209.7L579.7 1211.9L579.8 1214.0L580.0 1216.0L580.1 1218.0L580.4 1221.6L580.6 1225.0L580.9 1228.2L581.1 1231.2L581.4 1234.0L581.6 1236.6L581.9 1239.1L582.1 1241.5L582.3 1243.7L582.5 1245.9L582.8 1248.0L583.0 1250.0L583.4 1253.7L583.9 1256.9L584.3 1259.6L584.7 1261.9L585.1 1264.0L585.5 1266.0L586.5 1270.8L587.3 1273.0L588.1 1271.9L589.0 1268.0L589.4 1266.2L589.8 1264.1L590.2 1261.8L590.6 1259.1L591.1 1255.8L591.5 1252.0L591.7 1250.0L591.9 1248.0L592.1 1245.9L592.3 1243.7L592.5 1241.3L592.7 1238.9L592.9 1236.3L593.1 1233.6L593.3 1230.8L593.5 1227.9L593.7 1224.7L593.9 1221.5L594.1 1218.0L594.2 1216.0L594.3 1213.9L594.5 1211.8L594.6 1209.6L594.7 1207.3L594.8 1205.0L595.0 1202.7L595.1 1200.3L595.2 1197.9L595.4 1195.4L595.5 1192.9L595.6 1190.4L595.7 1187.8L595.9 1185.1L596.0 1182.5L596.1 1179.8L596.2 1177.0L596.4 1174.3L596.5 1171.5L596.6 1168.6L596.7 1165.8L596.8 1162.9L596.9 1160.0L597.0 1157.7L597.0 1155.4L597.1 1153.1L597.2 1150.7L597.2 1148.2L597.3 1145.8L597.4 1143.3L597.4 1140.7L597.5 1138.2L597.5 1135.6L597.6 1133.0L597.6 1130.4L597.7 1127.8L597.7 1125.1L597.8 1122.5L597.8 1119.8L597.9 1117.2L597.9 1114.5L598.0 1111.8L598.0 1109.2L598.1 1106.5L598.1 1103.9L598.2 1101.3L598.2 1098.7L598.3 1096.1L598.3 1093.6L598.4 1091.1L598.5 1088.6L598.5 1086.1L598.6 1083.7L598.7 1081.0L598.8 1078.4L598.8 1075.8L598.9 1073.2L599.0 1070.6L599.1 1068.0L599.2 1065.5L599.3 1063.0L599.4 1060.4L599.5 1057.9L599.6 1055.4L599.7 1052.9L599.7 1050.5L599.8 1048.0L599.9 1045.5L600.0 1043.0L600.1 1040.6L600.2 1038.1L600.3 1035.7L600.4 1033.2L600.5 1030.7L600.6 1028.3L600.7 1025.8L600.8 1023.3L600.9 1020.8L601.0 1018.3L601.1 1015.8L601.2 1013.3L601.3 1010.8L601.4 1008.3L601.5 1005.7L601.6 1003.2L601.7 1000.7L601.8 998.2L601.9 995.7L602.0 993.2L602.1 990.7L602.2 988.1L602.3 985.6L602.4 983.1L602.4 980.6L602.5 978.1L602.6 975.6L602.7 973.0L602.8 970.5L602.9 968.0L603.0 965.5L603.1 963.0L603.2 960.5L603.3 958.0L603.4 955.4L603.5 952.9L603.6 950.4L603.7 947.9L603.8 945.4L603.9 942.8L604.0 940.3L604.1 937.7L604.2 935.2L604.3 932.6L604.4 930.0L604.4 927.4L604.5 924.8L604.6 922.3L604.7 919.7L604.8 917.1L604.9 914.5L605.0 911.9L605.1 909.4L605.2 906.8L605.3 904.3L605.4 901.8L605.4 899.3L605.5 896.8L605.6 894.3L605.7 891.9L605.8 889.4L605.9 887.0L606.0 884.7L606.1 882.3L606.2 880.0L606.3 877.2L606.4 874.4L606.6 871.7L606.7 869.0L606.8 866.3L606.9 863.7L607.1 861.0L607.2 858.4L607.3 855.9L607.4 853.3L607.6 850.8L607.7 848.3L607.8 845.8L607.9 843.3L608.0 840.8L608.2 838.4L608.3 835.9L608.4 833.5L608.5 831.0L608.7 828.6L608.8 826.1L608.9 823.7L609.0 821.0L609.2 818.4L609.3 815.8L609.4 813.2L609.5 810.6L609.6 808.0L609.8 805.5L609.9 803.0L610.0 800.4L610.1 797.9L610.2 795.4L610.3 792.9L610.5 790.4L610.6 787.9L610.7 785.4L610.8 782.9L611.0 780.4L611.1 777.9L611.3 775.3L611.4 772.8L611.5 770.3L611.7 767.7L611.9 765.2L612.0 762.6L612.2 760.1L612.3 757.5L612.5 755.0L612.7 752.4L612.8 749.9L613.0 747.3L613.2 744.8L613.3 742.3L613.5 739.7L613.7 737.2L613.9 734.6L614.1 732.1L614.2 729.5L614.4 727.0L614.6 724.4L614.8 721.9L615.0 719.4L615.2 716.8L615.4 714.3L615.6 711.7L615.8 709.2L616.1 706.6L616.3 704.1L616.5 701.5L616.7 699.0L616.9 696.5L617.2 693.9L617.4 691.4L617.6 688.8L617.8 686.3L618.0 683.7L618.2 681.2L618.4 678.6L618.6 676.1L618.8 673.5L619.0 671.0L619.2 668.4L619.3 665.9L619.4 663.2L619.6 660.6L619.7 658.0L619.8 655.3L619.9 652.7L620.0 650.0L620.1 647.4L620.2 644.8L620.3 642.2L620.4 639.6L620.5 637.0L620.6 634.4L620.7 631.9L620.9 629.5L621.0 627.0L621.2 624.6L621.4 622.3L621.6 620.0L621.9 617.1L622.3 614.3L622.6 611.6L623.0 609.0L623.5 606.5L623.9 604.0L624.4 601.6L624.8 599.1L625.3 596.7L625.8 594.2L626.2 591.7L626.7 589.1L627.1 586.4L627.5 583.6L627.9 580.7L628.2 578.4L628.5 576.1L628.7 573.7L629.0 571.3L629.3 568.8L629.5 566.3L629.8 563.7L630.0 561.2L630.3 558.6L630.5 556.0L630.8 553.4L631.0 550.7L631.3 548.1L631.5 545.4L631.8 542.8L632.0 540.2L632.2 537.6L632.5 534.9L632.7 532.4L633.0 529.8L633.3 527.2L633.5 524.6L633.8 522.0L634.0 519.3L634.3 516.7L634.6 514.0L634.9 511.3L635.1 508.6L635.4 505.9L635.7 503.2L635.9 500.6L636.2 498.0L636.4 495.4L636.7 492.8L636.9 490.3L637.2 487.9L637.4 485.5L637.7 483.2L637.9 481.0L638.1 478.8L638.4 475.6L638.7 472.6L639.0 469.8L639.3 467.1L639.5 464.5L639.8 462.0L640.0 459.6L640.3 457.2L640.5 454.8L640.8 452.4L641.0 449.9L641.2 447.5L641.5 444.9L641.8 442.2L642.0 439.5L642.3 436.6L642.5 433.8L642.8 430.9L643.1 428.0L643.3 425.2L643.6 422.5L643.9 419.9L644.1 417.3L644.4 415.0L644.6 412.8L644.9 410.9L645.6 406.7L646.3 403.5L646.9 401.1L647.6 399.1L648.3 397.4L651.7 394.0" fill="none" stroke="#f00" stroke-width="10.0" stroke-linejoin="round" stroke-linecap="round"/>
<path d="M651.7 391.6L654.6 387.5L657.5 383.8L660.4 384.5L663.3 383.5L666.2 377.3L669.1 375.8L672.0 382.0L674.9 375.5L677.8 373.9L680.7 379.5L683.6 373.7L686.5 376.1L689.4 372.2L692.3 373.2L695.2 368.4L698.1 372.4L701.0 374.2L703.9 370.8L706.8 372.4L709.7 371.5L712.6 365.7L715.5 371.7L718.4 370.0L721.3 367.2L724.2 364.4L727.1 371.4L730.0 367.3L732.9 368.8L735.8 369.5L738.7 367.1L741.6 367.7L744.5 361.4L747.4 363.1L750.3 357.7L753.2 359.9L756.1 357.3L759.0 348.3L761.9 346.9L764.8 345.9L767.7 350.9L770.6 344.5L773.5 344.5L776.4 339.8L779.3 339.9L782.2 337.0L785.1 334.8L788.0 334.9L790.9 332.8L793.8 333.5L796.7 329.5L799.6 329.9L802.5 327.5L805.4 327.1L808.3 322.5L811.2 316.2L814.1 320.5L817.0 319.4L819.9 316.7L822.8 311.4L825.7 310.3L828.6 303.2L831.5 305.9L834.4 300.6L837.3 294.8L840.2 289.5L843.1 293.3L846.0 291.0L848.9 279.2L851.8 281.8L854.7 274.4L857.6 268.3L860.5 265.8L863.4 266.6L866.3 264.1L869.2 253.3L872.1 255.0L875.0 246.3L877.9 248.5L880.8 240.9L883.7 241.3L886.6 237.2L889.5 226.8L892.4 223.3L895.3 210.6L898.2 204.6L901.1 207.0L904.0 200.4L906.9 200.8L909.8 202.0L912.7 203.2L915.6 198.6L918.5 197.0L921.4 203.7L924.3 197.6L927.2 201.6L930.1 198.8L933.0 191.6L935.9 189.9L938.8 188.8L941.7 189.8L944.6 191.3L947.5 193.9L950.4 196.3L953.3 200.5L956.2 198.0L959.1 198.4L962.0 202.1L964.9 198.6L967.8 200.0L970.7 206.8L973.6 203.4L976.5 204.4L979.4 200.3L982.3 204.6L985.2 206.7L988.1 202.2L991.0 208.1L993.9 208.8L996.8 204.1L999.7 209.5L1002.6 208.4L1005.5 210.5L1008.4 207.6L1011.3 210.8L1014.2 211.1L1017.1 204.5L1020.0 204.7L1022.9 210.0L1025.8 212.4L1028.7 205.7L1031.6 207.3L1034.5 208.2L1037.4 205.5L1040.3 205.6L1043.2 204.8L1046.1 205.0L1049.0 206.6L1051.9 203.6L1054.8 203.9L1057.7 207.0L1060.6 199.9L1063.5 204.3L1066.4 205.3L1069.3 200.9L1072.2 199.5L1075.1 204.0L1078.0 198.0L1080.9 196.2L1083.8 196.8L1086.7 197.8L1089.6 191.4L1092.5 192.6L1095.4 192.1L1098.3 196.0L1101.2 192.0L1104.1 195.2L1107.0 188.5L1109.9 189.6L1112.8 191.9L1115.7 193.5L1118.6 189.0L1121.5 186.4L1124.4 184.7L1127.3 187.6L1130.2 183.6L1133.1 188.1L1136.0 187.3L1138.9 180.1L1141.8 179.7L1144.7 183.1L1147.6 180.4L1150.5 180.6L1153.4 175.4L1156.3 172.4L1159.2 172.8L1162.1 176.4L1165.0 170.7L1167.9 170.4L1170.8 170.1L1173.7 169.2L1176.6 168.2L1179.5 171.9L1182.4 164.2L1185.3 162.1L1188.2 169.8L1191.1 168.5L1194.0 168.8L1196.9 163.1L1199.8 166.9L1202.7 165.9L1205.6 158.6L1208.5 162.3L1211.4 162.1L1214.3 159.4L1217.2 156.9L1220.1 153.6L1223.0 152.9L1225.9 150.6L1228.8 148.0L1231.7 151.5L1234.6 147.6L1237.5 151.1L1240.4 143.0L1243.3 149.4L1246.2 146.3L1249.1 147.1L1252.0 145.7L1254.9 144.5L1257.8 140.5L1260.7 134.3L1263.6 139.9L1266.5 133.8L1269.4 134.1L1272.3 136.6L1275.2 134.8L1278.1 133.3L1281.0 137.6L1283.9 134.2L1286.8 131.4L1289.7 130.2L1292.6 135.2L1295.5 131.2L1298.4 133.3L1301.3 128.6L1304.2 126.0L1307.1 127.3L1310.0 127.3L1312.9 118.3L1315.8 120.9L1318.7 120.0L1321.6 117.5L1324.5 116.6L1327.4 108.4L1330.3 113.2L1333.2 114.6L1336.1 106.6L1339.0 108.0L1341.9 107.4L1344.8 109.2L1347.7 107.8L1350.6 107.9L1353.5 111.2L1356.4 106.4L1359.3 106.6L1362.2 106.7L1365.1 105.9L1368.0 104.6L1370.9 112.0L1373.8 110.1L1376.7 102.4L1379.6 105.3L1382.5 102.9L1385.4 102.2L1388.3 102.0L1391.2 104.1L1394.1 103.0L1397.0 100.5L1399.9 98.5L1402.8 99.3L1405.7 97.1L1408.6 100.6L1411.5 101.7L1414.4 98.4L1417.3 95.5L1420.2 96.3L1423.1 98.0L1426.0 100.0L1428.9 101.7L1431.8 98.1L1434.7 101.9L1437.6 100.2L1440.5 98.5L1443.4 97.8L1446.3 98.8L1449.2 100.4L1452.1 97.7L1455.0 99.9L1457.9 97.5L1460.8 95.3L1463.7 97.7L1466.6 99.0L1469.5 93.2L1472.4 96.3L1475.3 96.3L1478.2 100.3L1481.1 100.9L1484.0 95.9L1486.9 100.7L1489.8 99.8L1492.7 95.1L1495.6 97.0L1498.5 94.1L1501.4 100.4L1504.3 99.2L1507.2 101.4L1510.1 100.8L1513.0 99.9L1515.9 100.7L1518.8 99.3L1521.7 95.3L1524.6 99.8L1527.5 94.5L1530.4 95.8L1533.3 101.3L1536.2 94.6L1539.1 94.9L1542.0 94.8L1544.9 101.6L1547.8 95.1L1550.7 93.5L1553.6 100.7L1556.5 94.1L1559.4 100.4L1562.3 98.8L1565.2 100.2L1568.1 101.1L1571.0 97.7L1573.9 99.6L1576.8 92.6L1579.7 99.1L1582.6 96.7L1585.5 98.4L1588.4 92.7L1591.3 98.4L1594.2 99.9L1597.1 91.9L1600.0 94.1L1602.9 96.1L1605.8 98.3L1608.7 92.8L1611.6 92.1L1614.5 92.6L1617.4 95.8L1620.3 97.0L1623.2 93.6L1626.1 93.3L1629.0 93.4L1631.9 92.9L1634.8 93.4L1637.7 90.3L1640.6 94.0L1643.5 98.1L1646.4 93.0L1649.3 95.8L1652.2 90.4L1655.1 95.0L1658.0 95.5L1660.9 94.6L1663.8 93.1L1666.7 92.7L1669.6 94.0L1672.5 96.2L1675.4 89.4L1678.3 88.9L1681.2 94.7L1684.1 96.3L1687.0 92.7L1689.9 92.1L1692.8 94.7L1695.7 90.0L1698.6 90.9L1701.5 90.4L1704.4 94.0L1707.3 91.7L1710.2 91.1L1713.1 95.4L1716.0 97.9L1718.9 92.0L1721.8 95.8L1724.7 93.2L1727.6 97.2L1730.5 94.8L1733.4 91.9L1736.3 91.5L1739.2 89.7L1742.1 93.8L1745.0 92.9L1747.9 90.9L1750.8 92.6L1753.7 92.2L1756.6 96.2L1759.5 90.4L1762.4 98.0L1765.3 93.3L1768.2 94.4L1771.1 93.1L1774.0 96.4L1776.9 96.2L1779.8 93.8L1782.7 93.1L1785.6 95.2L1788.5 96.4L1791.4 92.2L1794.3 95.2L1797.2 97.1L1800.1 92.6L1803.0 90.4L1805.9 90.3L1808.8 94.5L1811.7 93.9L1814.6 96.2L1817.5 95.0L1820.4 89.1L1823.3 88.3L1826.2 88.5L1829.1 87.5L1832.0 91.8L1834.9 92.8L1837.8 92.9L1840.7 86.9L1843.6 92.3L1846.5 87.3L1849.4 88.4L1852.3 91.2L1855.2 85.6L1858.1 85.9L1861.0 92.9L1863.9 88.3L1866.8 89.1L1869.7 91.4L1872.6 92.6L1875.5 86.8L1878.4 89.9L1881.3 91.0L1884.2 91.6L1887.1 89.3L1890.0 92.8L1892.9 96.2L1895.8 91.3L1898.7 92.8L1901.6 89.1L1904.5 90.6L1907.4 94.2L1910.3 89.3L1913.2 96.4L1916.1 96.6L1919.0 89.4L1921.9 97.0L1924.8 91.8L1927.7 95.2L1930.6 94.8L1933.5 90.3L1936.4 93.2L1939.3 92.5L1940.0 91.0" fill="none" stroke="#f00" stroke-width="14.0" stroke-linejoin="round" stroke-linecap="round"/>
<path d="M1199 161L1202 148L1206 148L1206 152L1203 165L1199 165ZM1202 148L1204 119L1208 119L1208 123L1206 152L1202 152ZM1204 119L1208 119L1210 148L1210 152L1206 152L1204 123ZM1206 148L1210 148L1211 193L1211 197L1207 197L1206 152ZM1207 193L1209 168L1213 168L1213 172L1211 197L1207 197ZM1209 168L1212 156L1216 156L1216 160L1213 172L1209 172Z" fill="#f00" stroke="#f00" stroke-width="4" stroke-linejoin="round"/>
<path d="M1226.0 151.0L1229.0 136.0L1232.0 150.0" fill="none" stroke="#f00" stroke-width="8" stroke-linejoin="round" stroke-linecap="round"/>
<path d="M1246.0 144.0L1249.8 124.0L1253.0 141.0" fill="none" stroke="#f00" stroke-width="8" stroke-linejoin="round" stroke-linecap="round"/>
<path d="M1292.0 132.0L1295.7 121.0L1299.0 130.0" fill="none" stroke="#f00" stroke-width="8" stroke-linejoin="round" stroke-linecap="round"/>
<path d="M1938 89L1944 84L1948 84L1948 88L1942 93L1938 93ZM1944 84L1948 84L1950 98L1950 102L1946 102L1944 88ZM1946 98L1950 98L1950 137L1946 137Z" fill="#f00" stroke="#f00" stroke-width="4" stroke-linejoin="round"/>
</g>
<line x1="345.2" y1="1321.5" x2="1610" y2="1321.5" stroke="#000" stroke-width="6.5" stroke-dasharray="34.5 30.2"/>
<line x1="444.6" y1="598.3" x2="432.1" y2="435.3" stroke="#000" stroke-width="6"/><polygon points="429.4,399.4 451.7,435.8 412.9,438.8" fill="#000"/>
<line x1="719.7" y1="1217.1" x2="623.5" y2="1263.0" stroke="#000" stroke-width="6"/><polygon points="591.0,1278.5 616.9,1244.5 633.7,1279.7" fill="#000"/>
<line x1="1197.2" y1="356.9" x2="1100.7" y2="249.7" stroke="#000" stroke-width="6"/><polygon points="1076.6,222.9 1116.5,238.1 1087.5,264.2" fill="#000"/>
<line x1="428.0" y1="1151.3" x2="354.8" y2="1280.7" stroke="#000" stroke-width="6"/><polygon points="337.1,1312.0 338.8,1269.3 372.8,1288.5" fill="#000"/>
<text stroke="#fff" stroke-width="0.00" stroke-linejoin="round" transform="translate(342.61 677.71) scale(0.6625 0.6806)" font-family="Liberation Serif, serif" font-weight="normal" font-size="100" text-anchor="start" fill="#000">≈</text>
<text stroke="#fff" stroke-width="1.30" stroke-linejoin="round" transform="translate(379.06 673.96) scale(0.6452 0.7439)" font-family="Liberation Serif, serif" font-weight="normal" font-size="100" text-anchor="start" fill="#000">99</text>
<text stroke="#fff" stroke-width="1.38" stroke-linejoin="round" transform="translate(445.37 641.35) scale(0.6571 0.6458)" font-family="Liberation Serif, serif" font-weight="normal" font-size="100" text-anchor="start" fill="#000">o</text>
<text stroke="#fff" stroke-width="0.00" stroke-linejoin="round" transform="translate(478.26 672.58) scale(0.6842 0.7090)" font-family="Liberation Serif, serif" font-weight="normal" font-size="100" text-anchor="start" fill="#000">C</text>
<text stroke="#fff" stroke-width="1.19" stroke-linejoin="round" transform="translate(633.21 1203.75) scale(0.7646 0.7500)" font-family="Liberation Serif, serif" font-weight="normal" font-size="100" text-anchor="start" fill="#000">≈</text>
<text stroke="#fff" stroke-width="1.24" stroke-linejoin="round" transform="translate(677.28 1198.30) scale(0.7022 0.7485)" font-family="Liberation Serif, serif" font-weight="normal" font-size="100" text-anchor="start" fill="#000">196</text>
<text stroke="#fff" stroke-width="1.16" stroke-linejoin="round" transform="translate(782.75 1202.26) scale(0.6900 0.8600)" font-family="Liberation Serif, serif" font-weight="normal" font-size="100" text-anchor="start" fill="#000">°</text>
<text stroke="#fff" stroke-width="1.17" stroke-linejoin="round" transform="translate(807.81 1198.47) scale(0.7737 0.7627)" font-family="Liberation Serif, serif" font-weight="normal" font-size="100" text-anchor="start" fill="#000">C</text>
<text stroke="#fff" stroke-width="1.18" stroke-linejoin="round" transform="translate(1110.44 442.82) scale(0.7875 0.7417)" font-family="Liberation Serif, serif" font-weight="normal" font-size="100" text-anchor="start" fill="#000">≈</text>
<text stroke="#fff" stroke-width="1.20" stroke-linejoin="round" transform="translate(1151.56 436.93) scale(0.7222 0.7836)" font-family="Liberation Serif, serif" font-weight="normal" font-size="100" text-anchor="start" fill="#000">480</text>
<text stroke="#fff" stroke-width="1.14" stroke-linejoin="round" transform="translate(1259.05 440.90) scale(0.7100 0.8667)" font-family="Liberation Serif, serif" font-weight="normal" font-size="100" text-anchor="start" fill="#000">°</text>
<text stroke="#fff" stroke-width="1.13" stroke-linejoin="round" transform="translate(1283.84 437.19) scale(0.7895 0.8030)" font-family="Liberation Serif, serif" font-weight="normal" font-size="100" text-anchor="start" fill="#000">C</text>
<text stroke="#fff" stroke-width="1.18" stroke-linejoin="round" transform="translate(334.21 1144.42) scale(0.7377 0.7910)" font-family="Liberation Serif, serif" font-weight="normal" font-size="100" text-anchor="start" fill="#000">38 wt%</text>
<rect x="323.5" y="60.5" width="189.79999999999995" height="1315.5" fill="#f00" fill-opacity="0.118"/>
<rect x="513.3" y="60.5" width="377.70000000000005" height="1315.5" fill="#f00" fill-opacity="0.255"/>
<rect x="891" y="60.5" width="447" height="1315.5" fill="#f00" fill-opacity="0.37"/>
<line x1="319.25" y1="55.0" x2="1952.0" y2="55.0" stroke="#000" stroke-width="8.5"/>
<line x1="319.25" y1="1381.0" x2="1956.25" y2="1381.0" stroke="#000" stroke-width="8.5"/>
<line x1="323.5" y1="50.75" x2="323.5" y2="1385.25" stroke="#000" stroke-width="8.5"/>
<line x1="1952.0" y1="50.75" x2="1952.0" y2="1376.75" stroke="#f00" stroke-width="8.5"/>
<line x1="298.0" y1="55.00" x2="323.5" y2="55.00" stroke="#000" stroke-width="8.5"/>
<line x1="311.0" y1="137.88" x2="323.5" y2="137.88" stroke="#000" stroke-width="8.5"/>
<line x1="298.0" y1="220.75" x2="323.5" y2="220.75" stroke="#000" stroke-width="8.5"/>
<line x1="311.0" y1="303.62" x2="323.5" y2="303.62" stroke="#000" stroke-width="8.5"/>
<line x1="298.0" y1="386.50" x2="323.5" y2="386.50" stroke="#000" stroke-width="8.5"/>
<line x1="311.0" y1="469.38" x2="323.5" y2="469.38" stroke="#000" stroke-width="8.5"/>
<line x1="298.0" y1="552.25" x2="323.5" y2="552.25" stroke="#000" stroke-width="8.5"/>
<line x1="311.0" y1="635.12" x2="323.5" y2="635.12" stroke="#000" stroke-width="8.5"/>
<line x1="298.0" y1="718.00" x2="323.5" y2="718.00" stroke="#000" stroke-width="8.5"/>
<line x1="311.0" y1="800.88" x2="323.5" y2="800.88" stroke="#000" stroke-width="8.5"/>
<line x1="298.0" y1="883.75" x2="323.5" y2="883.75" stroke="#000" stroke-width="8.5"/>
<line x1="311.0" y1="966.62" x2="323.5" y2="966.62" stroke="#000" stroke-width="8.5"/>
<line x1="298.0" y1="1049.50" x2="323.5" y2="1049.50" stroke="#000" stroke-width="8.5"/>
<line x1="311.0" y1="1132.38" x2="323.5" y2="1132.38" stroke="#000" stroke-width="8.5"/>
<line x1="298.0" y1="1215.25" x2="323.5" y2="1215.25" stroke="#000" stroke-width="8.5"/>
<line x1="311.0" y1="1298.12" x2="323.5" y2="1298.12" stroke="#000" stroke-width="8.5"/>
<line x1="298.0" y1="1381.00" x2="323.5" y2="1381.00" stroke="#000" stroke-width="8.5"/>
<line x1="437.70" y1="1381.0" x2="437.70" y2="1393.5" stroke="#000" stroke-width="8.5"/>
<line x1="606.00" y1="1381.0" x2="606.00" y2="1405.5" stroke="#000" stroke-width="8.5"/>
<line x1="774.30" y1="1381.0" x2="774.30" y2="1393.5" stroke="#000" stroke-width="8.5"/>
<line x1="942.60" y1="1381.0" x2="942.60" y2="1405.5" stroke="#000" stroke-width="8.5"/>
<line x1="1110.90" y1="1381.0" x2="1110.90" y2="1393.5" stroke="#000" stroke-width="8.5"/>
<line x1="1279.20" y1="1381.0" x2="1279.20" y2="1405.5" stroke="#000" stroke-width="8.5"/>
<line x1="1447.50" y1="1381.0" x2="1447.50" y2="1393.5" stroke="#000" stroke-width="8.5"/>
<line x1="1615.80" y1="1381.0" x2="1615.80" y2="1405.5" stroke="#000" stroke-width="8.5"/>
<line x1="1784.10" y1="1381.0" x2="1784.10" y2="1393.5" stroke="#000" stroke-width="8.5"/>
<line x1="1952.40" y1="1381.0" x2="1952.40" y2="1405.5" stroke="#000" stroke-width="8.5"/>
<line x1="1952.0" y1="94.50" x2="1977.5" y2="94.50" stroke="#f00" stroke-width="8.5"/>
<line x1="1952.0" y1="215.15" x2="1964.5" y2="215.15" stroke="#f00" stroke-width="8.5"/>
<line x1="1952.0" y1="335.80" x2="1977.5" y2="335.80" stroke="#f00" stroke-width="8.5"/>
<line x1="1952.0" y1="456.45" x2="1964.5" y2="456.45" stroke="#f00" stroke-width="8.5"/>
<line x1="1952.0" y1="577.10" x2="1977.5" y2="577.10" stroke="#f00" stroke-width="8.5"/>
<line x1="1952.0" y1="697.75" x2="1964.5" y2="697.75" stroke="#f00" stroke-width="8.5"/>
<line x1="1952.0" y1="818.40" x2="1977.5" y2="818.40" stroke="#f00" stroke-width="8.5"/>
<line x1="1952.0" y1="939.05" x2="1964.5" y2="939.05" stroke="#f00" stroke-width="8.5"/>
<line x1="1952.0" y1="1059.70" x2="1977.5" y2="1059.70" stroke="#f00" stroke-width="8.5"/>
<line x1="1952.0" y1="1180.35" x2="1964.5" y2="1180.35" stroke="#f00" stroke-width="8.5"/>
<line x1="1952.0" y1="1301.00" x2="1977.5" y2="1301.00" stroke="#f00" stroke-width="8.5"/>
<text transform="translate(280.16 80.13) scale(0.8391 0.8732)" font-family="Liberation Sans, serif" font-weight="bold" font-size="100" text-anchor="end" fill="#000">100</text>
<text transform="translate(280.16 245.88) scale(0.8391 0.8732)" font-family="Liberation Sans, serif" font-weight="bold" font-size="100" text-anchor="end" fill="#000">95</text>
<text transform="translate(280.16 411.63) scale(0.8391 0.8732)" font-family="Liberation Sans, serif" font-weight="bold" font-size="100" text-anchor="end" fill="#000">90</text>
<text transform="translate(280.16 577.38) scale(0.8391 0.8732)" font-family="Liberation Sans, serif" font-weight="bold" font-size="100" text-anchor="end" fill="#000">85</text>
<text transform="translate(280.16 743.13) scale(0.8391 0.8732)" font-family="Liberation Sans, serif" font-weight="bold" font-size="100" text-anchor="end" fill="#000">80</text>
<text transform="translate(280.16 908.88) scale(0.8391 0.8732)" font-family="Liberation Sans, serif" font-weight="bold" font-size="100" text-anchor="end" fill="#000">75</text>
<text transform="translate(280.16 1074.63) scale(0.8391 0.8732)" font-family="Liberation Sans, serif" font-weight="bold" font-size="100" text-anchor="end" fill="#000">70</text>
<text transform="translate(280.16 1240.38) scale(0.8391 0.8732)" font-family="Liberation Sans, serif" font-weight="bold" font-size="100" text-anchor="end" fill="#000">65</text>
<text transform="translate(280.16 1406.13) scale(0.8391 0.8732)" font-family="Liberation Sans, serif" font-weight="bold" font-size="100" text-anchor="end" fill="#000">60</text>
<text transform="translate(1994.65 119.42) scale(0.8382 0.8845)" font-family="Liberation Sans, serif" font-weight="bold" font-size="100" text-anchor="start" fill="#f00">0.0</text>
<text transform="translate(1994.65 360.72) scale(0.8382 0.8845)" font-family="Liberation Sans, serif" font-weight="bold" font-size="100" text-anchor="start" fill="#f00">-0.3</text>
<text transform="translate(1994.65 602.02) scale(0.8382 0.8845)" font-family="Liberation Sans, serif" font-weight="bold" font-size="100" text-anchor="start" fill="#f00">-0.6</text>
<text transform="translate(1994.65 843.32) scale(0.8382 0.8845)" font-family="Liberation Sans, serif" font-weight="bold" font-size="100" text-anchor="start" fill="#f00">-0.9</text>
<text transform="translate(1994.65 1084.62) scale(0.8382 0.8845)" font-family="Liberation Sans, serif" font-weight="bold" font-size="100" text-anchor="start" fill="#f00">-1.2</text>
<text transform="translate(1994.65 1325.92) scale(0.8382 0.8845)" font-family="Liberation Sans, serif" font-weight="bold" font-size="100" text-anchor="start" fill="#f00">-1.5</text>
<text transform="translate(605.70 1489.52) scale(0.8476 0.8845)" font-family="Liberation Sans, serif" font-weight="bold" font-size="100" text-anchor="middle" fill="#000">200</text>
<text transform="translate(942.30 1489.52) scale(0.8476 0.8845)" font-family="Liberation Sans, serif" font-weight="bold" font-size="100" text-anchor="middle" fill="#000">400</text>
<text transform="translate(1278.90 1489.52) scale(0.8476 0.8845)" font-family="Liberation Sans, serif" font-weight="bold" font-size="100" text-anchor="middle" fill="#000">600</text>
<text transform="translate(1615.50 1489.52) scale(0.8476 0.8845)" font-family="Liberation Sans, serif" font-weight="bold" font-size="100" text-anchor="middle" fill="#000">800</text>
<text transform="translate(1952.10 1489.52) scale(0.8476 0.8845)" font-family="Liberation Sans, serif" font-weight="bold" font-size="100" text-anchor="middle" fill="#000">1000</text>
<text transform="translate(762.52 1616.07) scale(0.9919 1.0444)" font-family="Liberation Serif, serif" font-weight="bold" font-size="100" text-anchor="start" fill="#000">Temperture (</text>
<text transform="translate(1320.57 1558.78) scale(0.8571 0.6119)" font-family="Liberation Serif, serif" font-weight="bold" font-size="100" text-anchor="start" fill="#000">0</text>
<text transform="translate(1360.79 1616.07) scale(1.0417 1.0444)" font-family="Liberation Serif, serif" font-weight="bold" font-size="100" text-anchor="start" fill="#000">C)</text>
<text transform="translate(101.87 968.98) rotate(-90) scale(0.9817 0.9444)" font-family="Liberation Serif, serif" font-weight="bold" font-size="100" text-anchor="start" fill="#000">Weight (%)</text>
<text transform="translate(2247.08 1047.94) rotate(-90) scale(0.9675 0.9011)" font-family="Liberation Serif, serif" font-weight="bold" font-size="100" text-anchor="start" fill="#f00">Heat flow (W/g)</text>
</svg></body></html>
